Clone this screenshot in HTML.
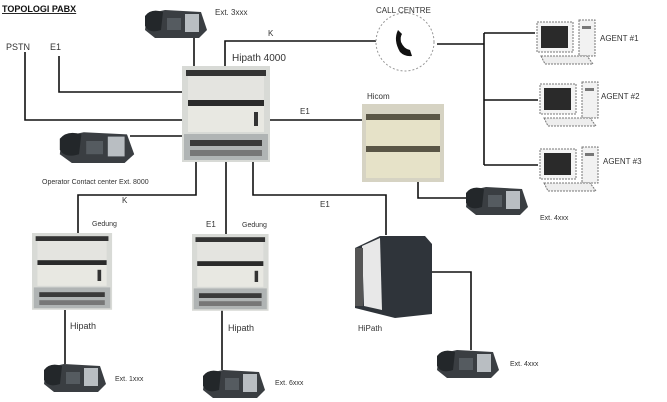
<!DOCTYPE html>
<html><head><meta charset="utf-8"><style>
html,body{margin:0;padding:0;background:#fff;}
svg{display:block;font-family:"Liberation Sans",sans-serif;}
</style></head><body>
<svg width="667" height="402" viewBox="0 0 667 402" xmlns="http://www.w3.org/2000/svg">
<defs>
<g id="pbx">
<rect x="0" y="0" width="88" height="96" fill="#d8dad6"/>
<rect x="4" y="4" width="80" height="6" fill="#333"/>
<rect x="6" y="10" width="76" height="24" fill="#e4e4e0"/>
<rect x="6" y="34" width="76" height="6" fill="#2a2a2a"/>
<rect x="6" y="40" width="76" height="26" fill="#e8e8e2"/>
<rect x="72" y="46" width="4" height="14" fill="#333"/>
<rect x="2" y="68" width="84" height="26" fill="#b0b4b4"/>
<rect x="8" y="74" width="72" height="6" fill="#3a3a3a"/>
<rect x="8" y="84" width="72" height="6" fill="#777"/>
</g>
<g id="phone">
<path d="M6 6 L24 2 L60 4 L66 22 L58 30 L14 30 L4 22 Z" fill="#3a3e42"/>
<path d="M4 8 Q10 0 22 4 L20 22 Q8 26 4 18 Z" fill="#23272a"/>
<rect x="44" y="6" width="14" height="18" fill="#b9bec2"/>
<rect x="26" y="10" width="14" height="12" fill="#555b60"/>
</g>
<g id="pc">
<rect x="0" y="4" width="36" height="30" fill="#f4f4f4" stroke="#777" stroke-dasharray="2 1"/>
<rect x="4" y="8" width="27" height="22" fill="#2a2a2a"/>
<rect x="42" y="2" width="16" height="36" fill="#f2f2f2" stroke="#777" stroke-dasharray="2 1"/>
<rect x="45" y="8" width="9" height="3" fill="#777"/>
<path d="M4 38 L50 38 L56 46 L8 46 Z" fill="#eee" stroke="#777" stroke-dasharray="2 1"/>
</g>
</defs>

<g stroke="#111" stroke-width="1.6" fill="none">
<polyline points="25,52 25,120 182,120"/>
<polyline points="59,56 59,92 182,92"/>
<line x1="194" y1="38" x2="194" y2="66"/>
<polyline points="225,66 225,41 376,41"/>
<line x1="437" y1="44" x2="484" y2="44"/>
<line x1="484" y1="33" x2="484" y2="165"/>
<line x1="484" y1="33" x2="535" y2="33"/>
<line x1="484" y1="100" x2="538" y2="100"/>
<line x1="484" y1="165" x2="538" y2="165"/>
<line x1="270" y1="120" x2="362" y2="120"/>
<polyline points="418,181 418,198 470,198"/>
<polyline points="196,162 196,195 78,195 78,233"/>
<line x1="226" y1="162" x2="226" y2="234"/>
<polyline points="253,162 253,195 386,195 386,235"/>
<polyline points="430,272 471,272 471,350"/>
<line x1="65" y1="310" x2="65" y2="364"/>
<line x1="222" y1="310" x2="222" y2="370"/>
<line x1="130" y1="136" x2="184" y2="136"/>
</g>

<use href="#pbx" x="182" y="66"/>
<use href="#pbx" x="32" y="233" transform="translate(32 233) scale(0.91 0.8) translate(-32 -233)"/>
<use href="#pbx" x="192" y="234" transform="translate(192 234) scale(0.87 0.8) translate(-192 -234)"/>

<!-- Hicom -->
<rect x="362" y="104" width="82" height="78" fill="#d6d3c3"/>
<rect x="366" y="114" width="74" height="6" fill="#5a5646"/>
<rect x="366" y="120" width="74" height="26" fill="#e6e2c8"/>
<rect x="366" y="146" width="74" height="6" fill="#5a5646"/>
<rect x="366" y="152" width="74" height="26" fill="#e6e2c8"/>

<!-- HiPath 3000 cabinet -->
<path d="M355 248 L380 236 L425 236 L432 244 L432 314 L395 318 L355 308 Z" fill="#2f343a"/>
<path d="M362 246 L380 238 L382 310 L364 306 Z" fill="#e8e8e8"/>
<rect x="355" y="248" width="8" height="58" fill="#555"/>

<!-- call centre -->
<circle cx="405" cy="42" r="29" fill="#fff" stroke="#999" stroke-dasharray="2 2"/>
<path d="M398 30 Q393 40 400 52 Q405 57 412 56 L410 50 Q404 49 401 42 Q400 37 402 34 Z" fill="#111"/>

<use href="#phone" x="141" y="8"/>
<use href="#phone" x="462" y="185"/>
<use href="#phone" x="40" y="362"/>
<use href="#phone" x="199" y="368"/>
<use href="#phone" x="433" y="348"/>
<g transform="translate(55 130) scale(1.2 1.1)"><use href="#phone"/></g>

<use href="#pc" x="537" y="18"/>
<use href="#pc" x="540" y="80"/>
<use href="#pc" x="540" y="145"/>

<g fill="#333" font-size="8">
<text x="2" y="12" font-size="9" font-weight="bold" fill="#111" text-decoration="underline">TOPOLOGI PABX</text>
<text x="215" y="15">Ext. 3xxx</text>
<text x="6" y="50" font-size="9">PSTN</text>
<text x="50" y="50" font-size="9">E1</text>
<text x="268" y="36">K</text>
<text x="232" y="61" font-size="10">Hipath 4000</text>
<text x="376" y="13">CALL CENTRE</text>
<text x="600" y="41">AGENT #1</text>
<text x="601" y="99">AGENT #2</text>
<text x="603" y="164">AGENT #3</text>
<text x="300" y="114">E1</text>
<text x="367" y="99">Hicom</text>
<text x="42" y="184" font-size="7">Operator Contact center Ext. 8000</text>
<text x="122" y="203">K</text>
<text x="320" y="207">E1</text>
<text x="540" y="220" font-size="7">Ext. 4xxx</text>
<text x="92" y="226" font-size="7">Gedung</text>
<text x="206" y="227">E1</text>
<text x="242" y="227" font-size="7">Gedung</text>
<text x="70" y="329" font-size="9">Hipath</text>
<text x="228" y="331" font-size="9">Hipath</text>
<text x="358" y="331" font-size="8">HiPath</text>
<text x="115" y="381" font-size="7">Ext. 1xxx</text>
<text x="275" y="385" font-size="7">Ext. 6xxx</text>
<text x="510" y="366" font-size="7">Ext. 4xxx</text>
</g>
</svg>
</body></html>
